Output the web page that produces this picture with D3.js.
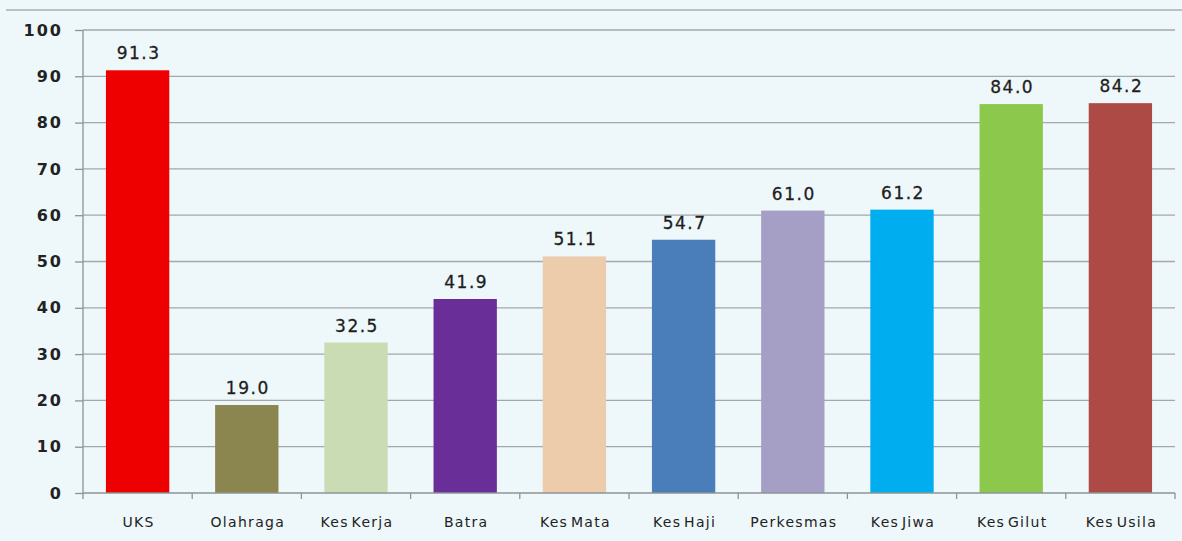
<!DOCTYPE html>
<html lang="en">
<head>
<meta charset="utf-8">
<title>bar chart</title>
<script src="https://d3js.org/d3.v7.min.js"></script>
<style>
  body { margin:0; background:#eef7f9; }
  svg { display:block; }
</style>
</head>
<body>
<div id="chart"></div>
<script>
// data
var categories = ["UKS","Olahraga","Kes Kerja","Batra","Kes Mata","Kes Haji","Perkesmas","Kes Jiwa","Kes Gilut","Kes Usila"];
var values = [91.3, 19.0, 32.5, 41.9, 51.1, 54.7, 61.0, 61.2, 84.0, 84.2];
var barColors = ["#ee0000","#8b8550","#c9dcb4","#6a2e98","#ecccaa","#4a7ebb","#a59fc6","#00aeef","#8cc84b","#ae4a46"];
var yTicks = [0,10,20,30,40,50,60,70,80,90,100];

var w = 1182, h = 541;
var mLeft = 83, mRight = 1175, mTop = 30, mBottom = 493;

var svg = d3.select("#chart").append("svg")
  .attr("width", w).attr("height", h);

// top border line
svg.append("line")
  .attr("x1", 6).attr("x2", w)
  .attr("y1", 10).attr("y2", 10)
  .attr("stroke", "#b9c1c2").attr("stroke-width", 2);

var x = d3.scaleBand().domain(categories).range([mLeft, mRight]).paddingInner(0.42).paddingOuter(0.21);
var y = d3.scaleLinear().domain([0,100]).range([mBottom, mTop]);

// gridlines
svg.append("g")
  .selectAll("line")
  .data(yTicks.slice(1))
  .enter().append("line")
  .attr("x1", mLeft).attr("x2", mRight)
  .attr("y1", function(d){ return y(d); })
  .attr("y2", function(d){ return y(d); })
  .attr("stroke", "#a3a8a8").attr("stroke-width", 1.3);

// bars
svg.append("g")
  .selectAll("rect")
  .data(values)
  .enter().append("rect")
  .attr("x", function(d,i){ return x(categories[i]); })
  .attr("y", function(d){ return y(d); })
  .attr("width", x.bandwidth())
  .attr("height", function(d){ return mBottom - y(d); })
  .attr("fill", function(d,i){ return barColors[i]; });

// value labels
svg.append("g")
  .selectAll("text")
  .data(values)
  .enter().append("text")
  .attr("x", function(d,i){ return x(categories[i]) + x.bandwidth()/2 + 1; })
  .attr("y", function(d){ return y(d) - 11; })
  .attr("text-anchor", "middle")
  .style("font-family", "DejaVu Sans, Verdana, sans-serif")
  .style("font-size", "17px")
  .style("letter-spacing", "1.5px")
  .style("fill", "#1e1e1e")
  .style("stroke", "#1e1e1e").style("stroke-width", 0.3)
  .text(function(d){ return d.toFixed(1); });

// y axis
var yAxis = d3.axisLeft(y).tickValues(yTicks).tickSize(8).tickPadding(14);
var gy = svg.append("g")
  .attr("transform", "translate(" + mLeft + ",0)")
  .call(yAxis);
gy.select(".domain").remove();
gy.append("line")
  .attr("x1", 0).attr("x2", 0)
  .attr("y1", mTop).attr("y2", mBottom)
  .attr("stroke", "#8e9494").attr("stroke-width", 1.3);
gy.selectAll("line").attr("stroke", "#8e9494").attr("stroke-width", 1.3);
gy.selectAll("text")
  .attr("dx", 2)
  .style("font-family", "DejaVu Sans, Verdana, sans-serif")
  .style("font-size", "16px")
  .style("font-weight", "bold")
  .style("letter-spacing", "2px")
  .style("fill", "#222");

// x axis with ticks between categories
var xPos = d3.scaleLinear().domain([0, categories.length]).range([mLeft, mRight]);
var gx = svg.append("g");
gx.append("line")
  .attr("x1", mLeft).attr("x2", mRight)
  .attr("y1", mBottom).attr("y2", mBottom)
  .attr("stroke", "#8e9494").attr("stroke-width", 1.3);
gx.selectAll(".sep")
  .data(d3.range(categories.length + 1))
  .enter().append("line")
  .attr("x1", function(d){ return xPos(d); })
  .attr("x2", function(d){ return xPos(d); })
  .attr("y1", mBottom).attr("y2", mBottom + 6)
  .attr("stroke", "#8e9494").attr("stroke-width", 1.3);
gx.selectAll("text")
  .data(categories)
  .enter().append("text")
  .attr("x", function(d){ return x(d) + x.bandwidth()/2 + 1; })
  .attr("y", 527)
  .attr("text-anchor", "middle")
  .style("font-family", "DejaVu Sans, Tahoma, sans-serif")
  .style("font-size", "14px")
  .style("letter-spacing", "1.3px")
  .style("word-spacing", "-3px")
  .style("fill", "#222")
  .text(function(d){ return d; });
</script>
</body>
</html>
